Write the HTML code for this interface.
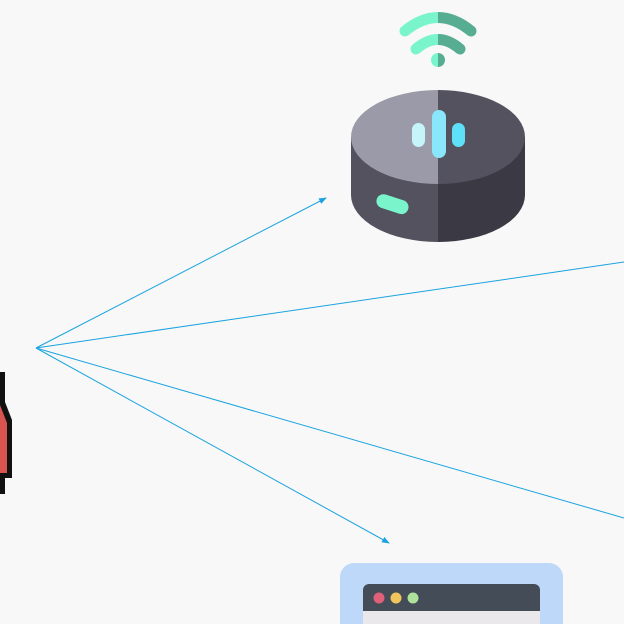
<!DOCTYPE html>
<html><head><style>html,body{margin:0;padding:0;background:#f8f8f8;overflow:hidden;width:624px;height:624px;}svg{display:block;}</style></head>
<body>
<svg width="624" height="624" viewBox="0 0 624 624" xmlns="http://www.w3.org/2000/svg">
<rect width="624" height="624" fill="#f8f8f8"/>
<defs>
<marker id="a" markerWidth="8" markerHeight="8" refX="7" refY="4" orient="auto" markerUnits="userSpaceOnUse">
<path d="M0,1 L8,4 L0,7 Z" fill="#1aa3e0"/></marker>
<clipPath id="L"><rect x="0" y="0" width="438" height="300"/></clipPath>
<clipPath id="R"><rect x="438" y="0" width="200" height="300"/></clipPath>
</defs>
<g stroke="#1aa3e0" stroke-width="1" fill="none">
<line x1="36" y1="348" x2="326" y2="198" marker-end="url(#a)"/>
<line x1="36" y1="348" x2="624" y2="262"/>
<line x1="36" y1="348" x2="624" y2="518"/>
<line x1="36" y1="348" x2="389" y2="543" marker-end="url(#a)"/>
</g>
<!-- person -->
<path d="M-2,372 L5,372 L5,402 L12,420 L12,478 L5,478 L5,494 L0,494 Z" fill="#111"/>
<path d="M0,405 L7,423 L7,473 L0,473 Z" fill="#d9534f"/>
<!-- wifi -->
<g fill="none" stroke-linecap="round" stroke-width="11">
<g clip-path="url(#L)" stroke="#7af5cb">
<path d="M405,31 Q438,4 471,31"/><path d="M416,49 Q438,30 460,49"/>
</g>
<g clip-path="url(#R)" stroke="#56ad92">
<path d="M405,31 Q438,4 471,31"/><path d="M416,49 Q438,30 460,49"/>
</g>
</g>
<path d="M438,53 a7,7 0 0 0 0,14 Z" fill="#7af5cb"/>
<path d="M438,53 a7,7 0 0 1 0,14 Z" fill="#56ad92"/>
<!-- speaker -->
<g clip-path="url(#L)">
<path d="M351,137 L351,195 A87,47 0 0 0 525,195 L525,137 Z" fill="#53525e"/>
<ellipse cx="438" cy="137" rx="87" ry="47" fill="#9b9aa8"/>
</g>
<g clip-path="url(#R)">
<path d="M351,137 L351,195 A87,47 0 0 0 525,195 L525,137 Z" fill="#3a3944"/>
<ellipse cx="438" cy="137" rx="87" ry="47" fill="#53525e"/>
</g>
<rect x="412" y="123" width="13" height="24" rx="6.5" fill="#c5f4fb"/>
<rect x="432" y="110" width="14" height="48" rx="7" fill="#8ae6fb"/>
<rect x="452" y="123" width="13" height="24" rx="6.5" fill="#5ee0f9"/>
<rect x="376" y="197" width="33" height="14" rx="7" fill="#7af5cb" transform="rotate(18 392 204)"/>
<!-- browser -->
<rect x="340" y="563" width="223" height="80" rx="14" fill="#bdd8f8"/>
<rect x="363" y="584" width="177" height="50" rx="6" fill="#444c58"/>
<rect x="363" y="611" width="177" height="20" fill="#ebe8ec"/>
<circle cx="379" cy="598" r="5.5" fill="#e0607a"/>
<circle cx="396" cy="598" r="5.5" fill="#f0c55e"/>
<circle cx="413" cy="598" r="5.5" fill="#aee19a"/>
</svg>
</body></html>
